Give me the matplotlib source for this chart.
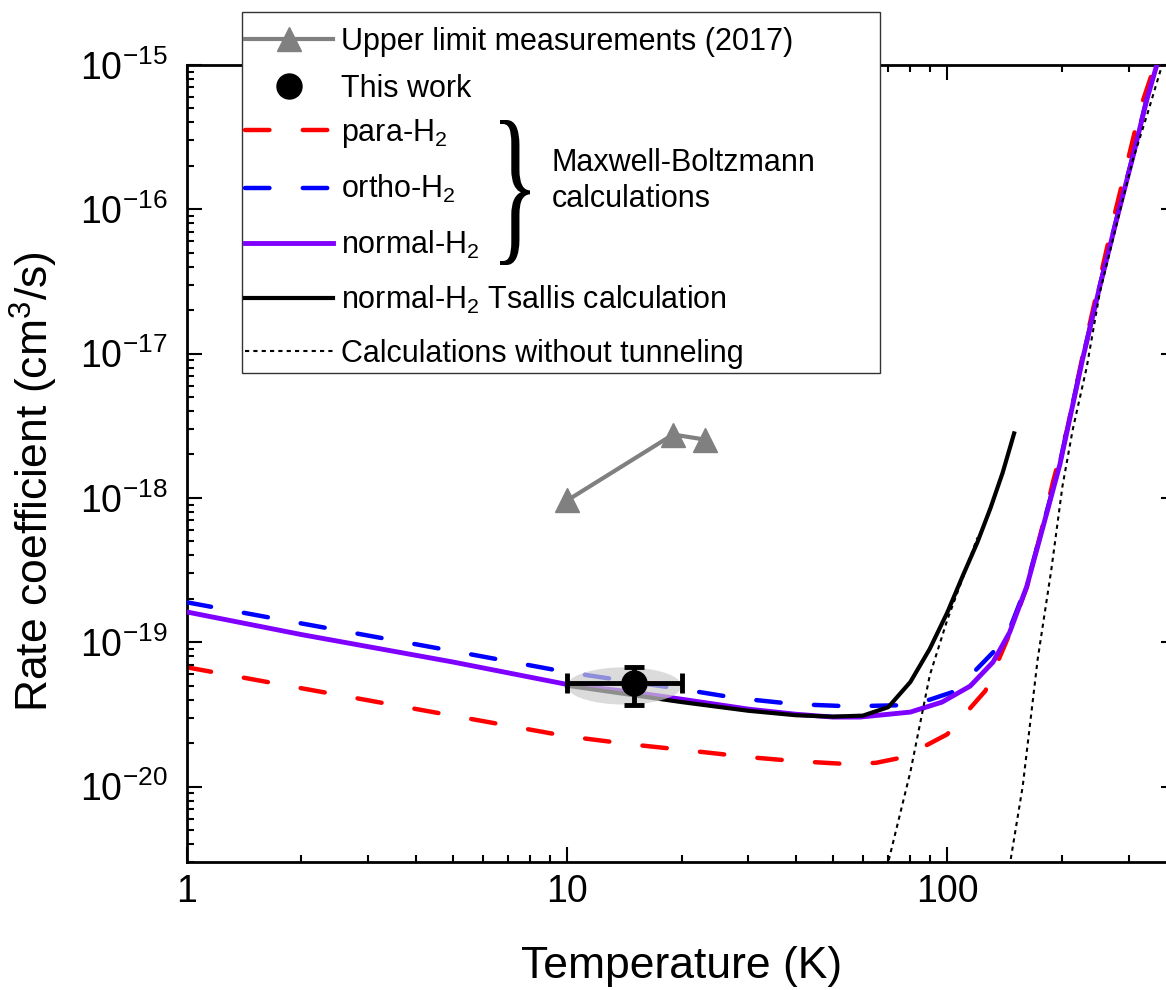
import matplotlib
matplotlib.use('Agg')
import matplotlib.pyplot as plt
import numpy as np
from matplotlib.lines import Line2D
from matplotlib.patches import Rectangle, PathPatch
from matplotlib.textpath import TextPath
from matplotlib.font_manager import FontProperties
from matplotlib.transforms import Affine2D
from matplotlib.ticker import LogLocator, NullFormatter, FuncFormatter

plt.rcParams['font.family'] = ['Liberation Sans', 'DejaVu Sans']
plt.rcParams['mathtext.fontset'] = 'custom'
plt.rcParams['mathtext.rm'] = 'Liberation Sans'
plt.rcParams['mathtext.it'] = 'Liberation Sans:italic'
plt.rcParams['mathtext.bf'] = 'Liberation Sans:bold'

# Maxwell-Boltzmann rate coefficients (cm^3/s)
T_para = [1, 2, 5, 10, 15, 20, 30, 40, 55, 65, 77, 100, 126, 144, 162, 178,
          190, 207, 230, 252, 276, 299, 323, 352]
k_para = [6.7e-20, 4.8e-20, 3.1e-20, 2.23e-20, 1.95e-20, 1.8e-20, 1.6e-20,
          1.5e-20, 1.43e-20, 1.46e-20, 1.6e-20, 2.3e-20, 4.6e-20, 1.05e-19,
          2.4e-19, 6.3e-19, 1.3e-18, 3.0e-18, 1.12e-17, 3.25e-17, 9.3e-17,
          2.2e-16, 5.1e-16, 1.0e-15]

T_ortho = [1, 2, 5, 10, 20, 28, 40, 55, 76, 90, 105, 132, 144, 162, 178,
           198, 227, 252, 279, 308, 335, 358]
k_ortho = [1.89e-19, 1.35e-19, 8.7e-20, 6.2e-20, 4.73e-20, 4.1e-20, 3.72e-20,
           3.6e-20, 3.66e-20, 4.0e-20, 4.58e-20, 8.5e-20, 1.12e-19, 2.5e-19,
           6.2e-19, 1.75e-18, 9.2e-18, 2.95e-17, 8.6e-17, 2.35e-16, 5.8e-16,
           1.05e-15]

T_normal = [1, 2, 5, 10, 15, 20, 30, 40, 50, 59, 80, 97, 115, 132, 146, 162,
            178, 198, 227, 252, 279, 308, 335, 358]
k_normal = [1.62e-19, 1.13e-19, 7.3e-20, 5.1e-20, 4.5e-20, 4.03e-20, 3.44e-20,
            3.17e-20, 3.03e-20, 3.03e-20, 3.28e-20, 3.85e-20, 4.97e-20,
            7.28e-20, 1.17e-19, 2.44e-19, 6.06e-19, 1.71e-18, 9.08e-18,
            2.91e-17, 8.45e-17, 2.31e-16, 5.73e-16, 1.05e-15]

# Tsallis calculation for normal-H2
T_tsallis = [10, 20, 30, 40, 50, 60, 70, 80, 90, 100, 110, 120, 130, 140, 150]
k_tsallis = [5.0e-20, 3.85e-20, 3.35e-20, 3.12e-20, 3.05e-20, 3.1e-20,
             3.55e-20, 5.3e-20, 9.0e-20, 1.6e-19, 2.9e-19, 4.9e-19, 8.5e-19,
             1.5e-18, 2.8e-18]

# calculations without tunneling
T_notun_ts = [68, 70, 80, 90, 100, 110, 120]
k_notun_ts = [2.4e-21, 3.0e-21, 1.26e-20, 5.9e-20, 1.42e-19, 2.8e-19, 5.3e-19]
T_notun_mb = [147, 158, 173, 188, 201, 214, 233, 252, 281, 308, 337, 369]
k_notun_mb = [3.15e-21, 1.0e-20, 7.6e-20, 3.2e-19, 1.2e-18, 2.98e-18, 8.1e-18,
              2.64e-17, 8.45e-17, 2.2e-16, 4.66e-16, 1.03e-15]

# upper limits (2017)
T_upper = [10, 19, 23]
k_upper = [9.6e-19, 2.75e-18, 2.54e-18]

# this work
T_meas, T_err = 15, 5
k_meas, k_err = 5.2e-20, 1.5e-20

W, H = 1166, 990
fig = plt.figure(figsize=(W / 100, H / 100), dpi=100)
ax = fig.add_axes([187 / W, 1 - 862 / H, (1176 - 187) / W, (862 - 65) / H])

red, blue, purple, grey = '#FF0000', '#0000FF', '#7F00FF', '#808080'
dash = dict(dashes=(5.5, 7.5), dash_capstyle='round')

ax.plot(T_para, k_para, color=red, lw=3.2, zorder=2, **dash)
ax.plot(T_ortho, k_ortho, color=blue, lw=3.2, zorder=3, **dash)
ax.plot(T_normal, k_normal, color=purple, lw=3.5, zorder=4)
ax.plot(T_tsallis, k_tsallis, color='k', lw=3, zorder=5)
ax.plot(T_notun_ts, k_notun_ts, color='k', lw=1.5, dashes=(2, 2), zorder=6)
ax.plot(T_notun_mb, k_notun_mb, color='k', lw=1.5, dashes=(2, 2), zorder=6)
ax.plot(T_upper, k_upper, color=grey, lw=3, marker='^', ms=17, zorder=7)

# uncertainty region as an ellipse in log space
t = np.linspace(0, 2 * np.pi, 200)
lx0, lx1 = np.log10(T_meas - T_err), np.log10(T_meas + T_err)
ly0, ly1 = np.log10(k_meas - k_err), np.log10(k_meas + k_err)
ex = 10 ** ((lx0 + lx1) / 2 + (lx1 - lx0) / 2 * np.cos(t))
ey = 10 ** ((ly0 + ly1) / 2 + (ly1 - ly0) / 2 * np.sin(t))
ax.fill(ex, ey, color='#cccccc', alpha=0.7, lw=0, zorder=8)

ax.errorbar(T_meas, k_meas, xerr=T_err, yerr=k_err, fmt='o', color='k',
            ms=18, elinewidth=3.5, capsize=7, capthick=3.5, zorder=10)

ax.set_xscale('log')
ax.set_yscale('log')
ax.set_xlim(1, 400)
ax.set_ylim(3e-21, 1e-15)

ax.set_xticks([1, 10, 100])
ax.set_yticks(10.0 ** np.arange(-20, -14))
ax.xaxis.set_minor_locator(LogLocator(base=10, subs=np.arange(2, 10), numticks=100))
ax.yaxis.set_minor_locator(LogLocator(base=10, subs=np.arange(2, 10), numticks=100))
ax.xaxis.set_major_formatter(FuncFormatter(lambda v, p: '%g' % v))
ax.yaxis.set_major_formatter(
    FuncFormatter(lambda v, p: '$10^{%d}$' % round(np.log10(v))))
ax.xaxis.set_minor_formatter(NullFormatter())
ax.yaxis.set_minor_formatter(NullFormatter())

ax.tick_params(which='both', direction='in', top=True, right=True)
ax.tick_params(which='major', length=10.8, width=1.5, labelsize=27)
ax.tick_params(which='minor', length=5, width=1.5)
ax.tick_params(axis='x', which='major', pad=9)
ax.tick_params(axis='y', which='major', pad=14)
for s in ax.spines.values():
    s.set_linewidth(2)

ax.set_xlabel('Temperature (K)', fontsize=32)
ax.set_ylabel('Rate coefficient (cm$^3$/s)', fontsize=32)
ax.xaxis.set_label_coords(0.5, -0.105)
ax.yaxis.set_label_coords(-0.128, 0.477)

# legend box drawn over the top of the axes
box = Rectangle((242 / W, 1 - 373 / H), (880 - 242) / W, (373 - 12) / H,
                transform=fig.transFigure, facecolor='white',
                edgecolor='#333333', lw=1, zorder=2)
fig.add_artist(box)

leg_kw = dict(loc='upper left', frameon=False, fontsize=22, handlelength=2.88,
              handletextpad=0.25, borderpad=0, borderaxespad=0)

meas_handles = [
    Line2D([], [], color=grey, lw=3, marker='^', ms=17),
    Line2D([], [], color='k', ls='none', marker='o', ms=18),
]
meas_labels = ['Upper limit measurements (2017)', 'This work']
fig.legend(meas_handles, meas_labels, bbox_to_anchor=(245 / W, 1 - 27 / H),
           labelspacing=0.56, **leg_kw)

calc_handles = [
    Line2D([], [], color=red, lw=3.2, **dash),
    Line2D([], [], color=blue, lw=3.2, **dash),
    Line2D([], [], color=purple, lw=3.5),
    Line2D([], [], color='k', lw=3),
    Line2D([], [], color='k', lw=1.5, dashes=(2, 2)),
]
calc_labels = [
    'para-H$_2$',
    'ortho-H$_2$',
    'normal-H$_2$',
    'normal-H$_2$ Tsallis calculation',
    'Calculations without tunneling',
]
fig.legend(calc_handles, calc_labels, bbox_to_anchor=(245 / W, 1 - 117 / H),
           labelspacing=0.76, **leg_kw)

# curly brace grouping the Maxwell-Boltzmann entries
tp = TextPath((0, 0), '}', size=100, prop=FontProperties(family='Liberation Serif'))
bb = tp.get_extents()
bx0, by0, bx1, by1 = 500, H - 265, 530, H - 120
brace_tf = (Affine2D().translate(-bb.x0, -bb.y0)
            .scale((bx1 - bx0) / bb.width, (by1 - by0) / bb.height)
            .translate(bx0, by0).scale(1 / W, 1 / H) + fig.transFigure)
fig.add_artist(PathPatch(tp, transform=brace_tf, facecolor='k', lw=0, zorder=6))
fig.text(552 / W, 1 - 181 / H, 'Maxwell-Boltzmann\ncalculations', fontsize=22,
         ha='left', va='center', linespacing=1.3, zorder=6)

fig.savefig('out.png', dpi=100)
